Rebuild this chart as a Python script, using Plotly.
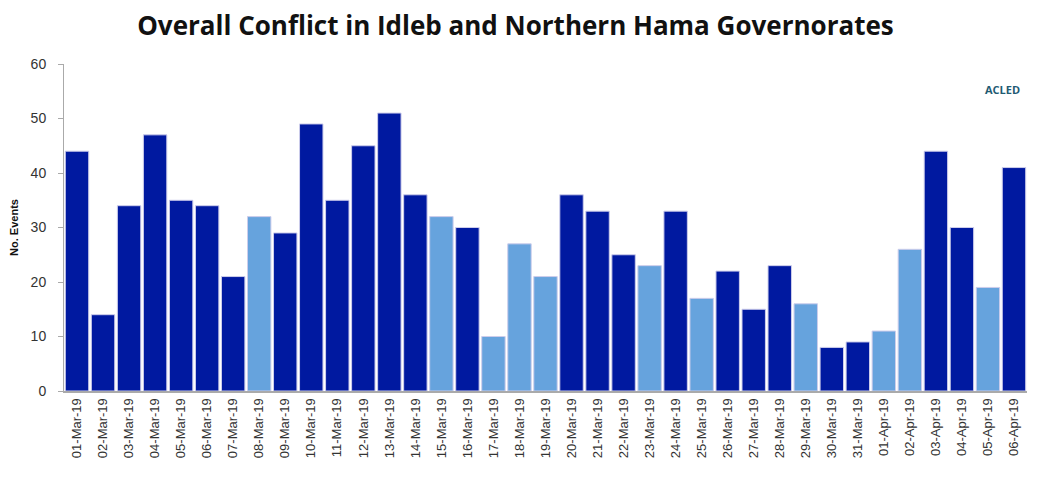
import plotly.graph_objects as go

dates = ["01-Mar-19", "02-Mar-19", "03-Mar-19", "04-Mar-19", "05-Mar-19", "06-Mar-19",
         "07-Mar-19", "08-Mar-19", "09-Mar-19", "10-Mar-19", "11-Mar-19", "12-Mar-19",
         "13-Mar-19", "14-Mar-19", "15-Mar-19", "16-Mar-19", "17-Mar-19", "18-Mar-19",
         "19-Mar-19", "20-Mar-19", "21-Mar-19", "22-Mar-19", "23-Mar-19", "24-Mar-19",
         "25-Mar-19", "26-Mar-19", "27-Mar-19", "28-Mar-19", "29-Mar-19", "30-Mar-19",
         "31-Mar-19", "01-Apr-19", "02-Apr-19", "03-Apr-19", "04-Apr-19", "05-Apr-19",
         "06-Apr-19"]
events = [44, 14, 34, 47, 35, 34, 21, 32, 29, 49, 35, 45, 51, 36, 32, 30, 10, 27,
          21, 36, 33, 25, 23, 33, 17, 22, 15, 23, 16, 8, 9, 11, 26, 44, 30, 19, 41]
light_days = {"08-Mar-19", "15-Mar-19", "17-Mar-19", "18-Mar-19", "19-Mar-19",
              "23-Mar-19", "25-Mar-19", "29-Mar-19", "01-Apr-19", "02-Apr-19",
              "05-Apr-19"}

DARK = "#0019A0"
LIGHT = "#66A3DD"
colors = [LIGHT if d in light_days else DARK for d in dates]

fig = go.Figure(go.Bar(
    x=dates, y=events,
    marker=dict(color=colors, line=dict(color="rgba(205,205,235,1)", width=1)),
))

fig.update_layout(
    width=1042, height=482,
    margin=dict(l=56, r=23, t=56, b=99, autoexpand=False),
    paper_bgcolor="white", plot_bgcolor="white",
    bargap=0.1,
    showlegend=False,
    title=dict(text="<b>Overall Conflict in Idleb and Northern Hama Governorates</b>",
               x=0.487, xanchor="center", y=0.963, yanchor="middle",
               font=dict(family="Open Sans", size=26, color="#111111")),
    font=dict(family="Liberation Sans", color="#333333"),
)
fig.update_xaxes(
    type="category", tickangle=-90, tickfont=dict(size=13, color="#333333"),
    showline=True, linecolor="#aaaaaa", linewidth=2, ticks="",
    showgrid=False, automargin=False,
)
fig.update_yaxes(
    range=[0, 60], dtick=10, showgrid=False, zeroline=False,
    showline=True, linecolor="#aaaaaa", linewidth=1,
    ticks="outside", ticklen=5, tickcolor="#aaaaaa", ticklabelstandoff=9,
    tickfont=dict(size=14, color="#333333"), automargin=False,
    title=dict(text="<b>No. Events</b>", font=dict(size=11, color="#111111"), standoff=12),
)
fig.add_annotation(text="<b>ACLED</b>", xref="paper", yref="paper", x=0.975, y=0.9235,
                   xanchor="center", yanchor="middle",
                   showarrow=False, font=dict(family="Open Sans", size=11, color="#1f5b73"))

fig.write_html("out.html")
